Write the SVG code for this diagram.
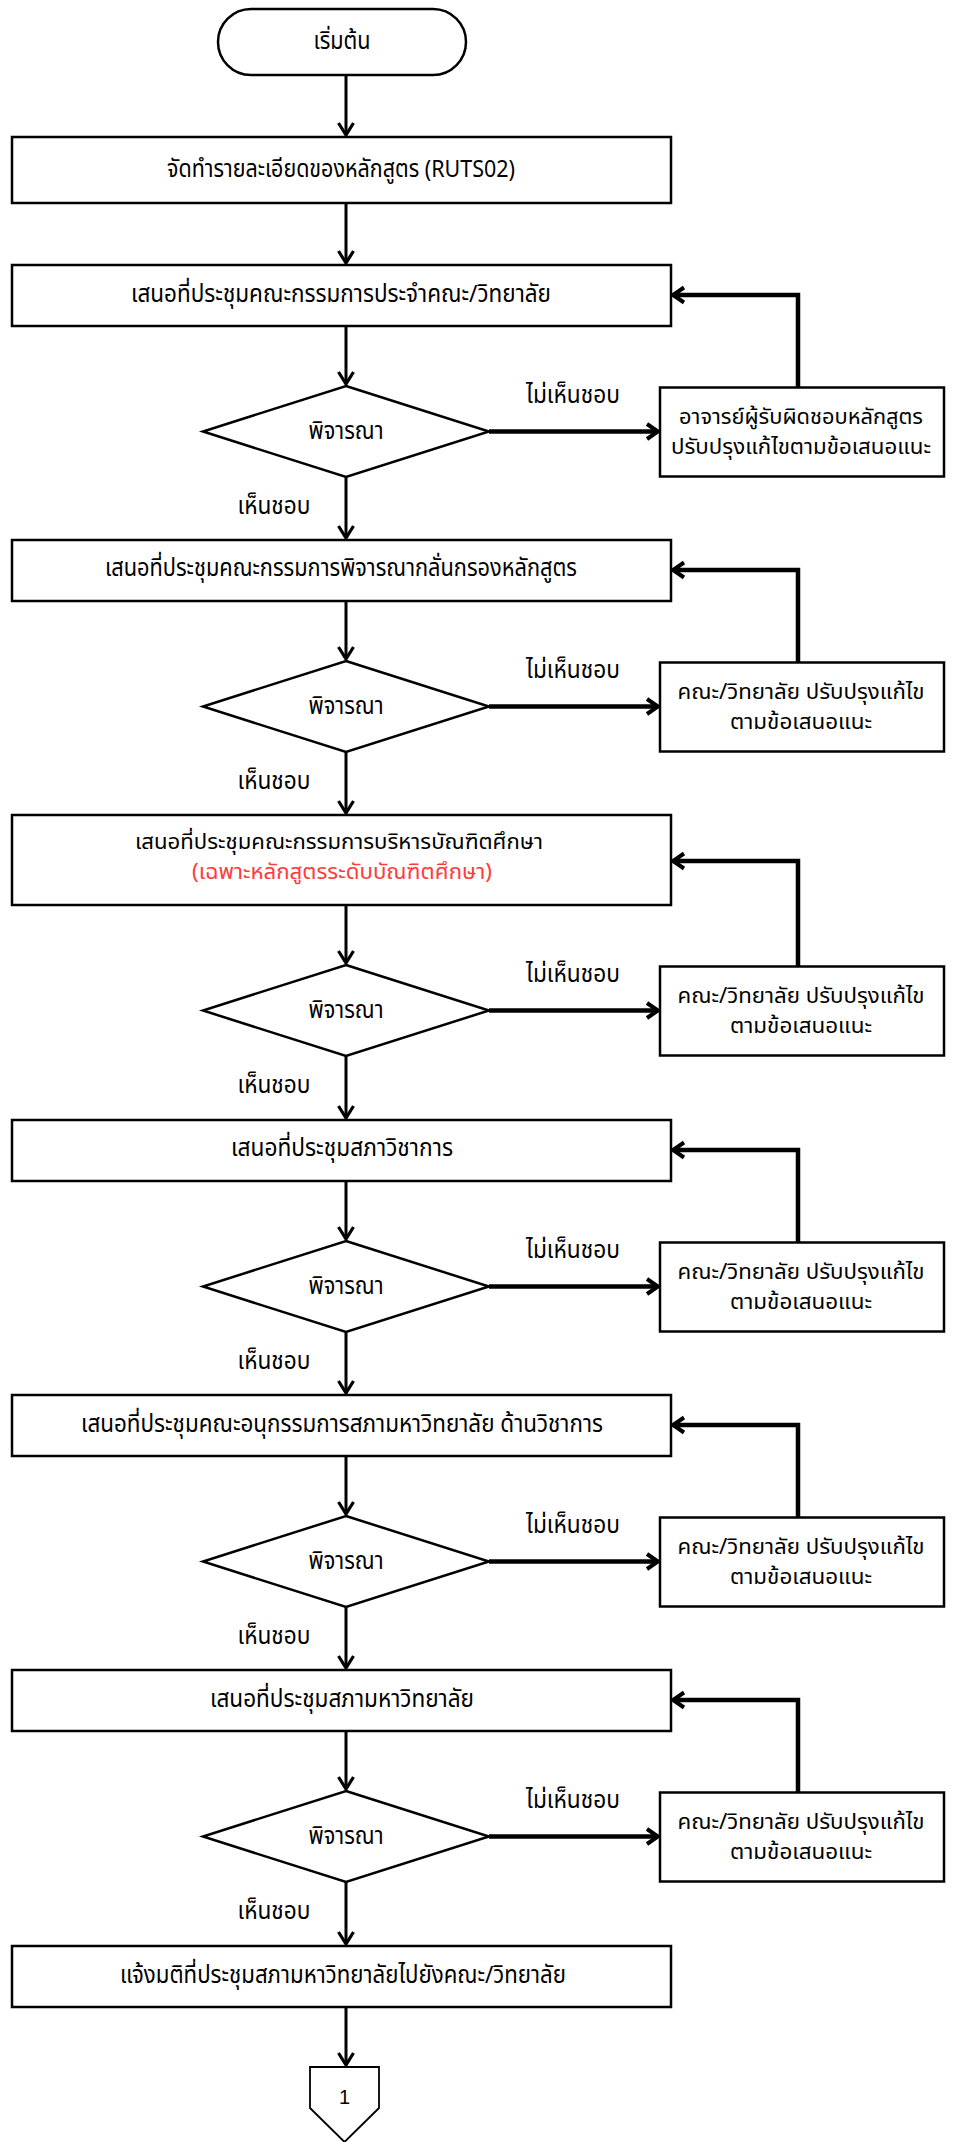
<svg xmlns="http://www.w3.org/2000/svg" width="955" height="2142" viewBox="0 0 955 2142">
<style>
.bx{fill:#fff;stroke:#000;stroke-width:2.5}
.t{font-family:"Noto Sans Thai","Noto Sans","DejaVu Sans",sans-serif;font-size:24px;fill:#000;text-anchor:middle}
.s{font-size:21px}
.red{fill:#ff3b3b}
.ln{fill:none;stroke:#000;stroke-width:3}
.thk{fill:none;stroke:#000;stroke-width:4.5}
</style>
<defs>
<marker id="ah" markerUnits="userSpaceOnUse" viewBox="-14 -10 16 20" refX="0" refY="0" markerWidth="16" markerHeight="20" orient="auto">
<path d="M-12,-7.5 L0,0 L-12,7.5" fill="none" stroke="#000" stroke-width="3.2"/>
</marker>
<marker id="ahk" markerUnits="userSpaceOnUse" viewBox="-14 -10 16 20" refX="0" refY="0" markerWidth="16" markerHeight="20" orient="auto">
<path d="M-11,-7.5 L0,0 L-11,7.5" fill="none" stroke="#000" stroke-width="4"/>
</marker>
</defs>
<rect width="955" height="2142" fill="#fff"/>

<g id="connectors">
<line class="ln" x1="346" y1="75" x2="346" y2="135" marker-end="url(#ah)"/>
<line class="ln" x1="346" y1="203" x2="346" y2="263" marker-end="url(#ah)"/>
<line class="ln" x1="346" y1="326" x2="346" y2="384" marker-end="url(#ah)"/>
<line class="thk" x1="489" y1="431.5" x2="658" y2="431.5" marker-end="url(#ahk)"/>
<polyline class="thk" points="798,387.5 798,295 673,295" marker-end="url(#ahk)"/>
<line class="ln" x1="346" y1="477" x2="346" y2="538" marker-end="url(#ah)"/>
<line class="ln" x1="346" y1="601" x2="346" y2="659" marker-end="url(#ah)"/>
<line class="thk" x1="489" y1="706.5" x2="658" y2="706.5" marker-end="url(#ahk)"/>
<polyline class="thk" points="798,662.5 798,570 673,570" marker-end="url(#ahk)"/>
<line class="ln" x1="346" y1="752" x2="346" y2="813" marker-end="url(#ah)"/>
<line class="ln" x1="346" y1="905" x2="346" y2="963" marker-end="url(#ah)"/>
<line class="thk" x1="489" y1="1010.5" x2="658" y2="1010.5" marker-end="url(#ahk)"/>
<polyline class="thk" points="798,966.5 798,861 673,861" marker-end="url(#ahk)"/>
<line class="ln" x1="346" y1="1056" x2="346" y2="1118" marker-end="url(#ah)"/>
<line class="ln" x1="346" y1="1181" x2="346" y2="1239" marker-end="url(#ah)"/>
<line class="thk" x1="489" y1="1286.5" x2="658" y2="1286.5" marker-end="url(#ahk)"/>
<polyline class="thk" points="798,1242.5 798,1150 673,1150" marker-end="url(#ahk)"/>
<line class="ln" x1="346" y1="1332" x2="346" y2="1393" marker-end="url(#ah)"/>
<line class="ln" x1="346" y1="1456" x2="346" y2="1514" marker-end="url(#ah)"/>
<line class="thk" x1="489" y1="1561.5" x2="658" y2="1561.5" marker-end="url(#ahk)"/>
<polyline class="thk" points="798,1517.5 798,1425 673,1425" marker-end="url(#ahk)"/>
<line class="ln" x1="346" y1="1607" x2="346" y2="1668" marker-end="url(#ah)"/>
<line class="ln" x1="346" y1="1731" x2="346" y2="1789" marker-end="url(#ah)"/>
<line class="thk" x1="489" y1="1836.5" x2="658" y2="1836.5" marker-end="url(#ahk)"/>
<polyline class="thk" points="798,1792.5 798,1700 673,1700" marker-end="url(#ahk)"/>
<line class="ln" x1="346" y1="1882" x2="346" y2="1944" marker-end="url(#ah)"/>
<line class="ln" x1="346" y1="2007" x2="346" y2="2065" marker-end="url(#ah)"/>
</g>

<g id="start">
<rect class="bx" x="218" y="9" width="248" height="66" rx="33" ry="33"/>
<text class="t" x="342" y="49" textLength="57" lengthAdjust="spacingAndGlyphs">เริ่มต้น</text>
</g>
<g id="box1">
<rect class="bx" x="12" y="137" width="659" height="66"/>
<text class="t" x="341" y="177" textLength="348" lengthAdjust="spacingAndGlyphs">จัดทำรายละเอียดของหลักสูตร (RUTS02)</text>
</g>

<g id="box2">
<rect class="bx" x="12" y="265" width="659" height="61"/>
<text class="t" x="341" y="302" textLength="420" lengthAdjust="spacingAndGlyphs">เสนอที่ประชุมคณะกรรมการประจำคณะ/วิทยาลัย</text>
</g>
<g id="dec1">
<polygon class="bx" points="346,386 489,431.5 346,477 203,431.5"/>
<text class="t" x="346" y="439" textLength="75" lengthAdjust="spacingAndGlyphs">พิจารณา</text>
</g>
<g id="fix1">
<rect class="bx" x="660" y="387.5" width="284" height="89"/>
<text class="t s" x="801" y="424" textLength="244" lengthAdjust="spacingAndGlyphs">อาจารย์ผู้รับผิดชอบหลักสูตร</text>
<text class="t s" x="801" y="454" textLength="260" lengthAdjust="spacingAndGlyphs">ปรับปรุงแก้ไขตามข้อเสนอแนะ</text>
</g>
<g id="lbl1">
<text class="t" x="573" y="403" textLength="94" lengthAdjust="spacingAndGlyphs">ไม่เห็นชอบ</text>
<text class="t" x="274" y="514" textLength="73" lengthAdjust="spacingAndGlyphs">เห็นชอบ</text>
</g>

<g id="box3">
<rect class="bx" x="12" y="540" width="659" height="61"/>
<text class="t" x="341" y="576" textLength="472" lengthAdjust="spacingAndGlyphs">เสนอที่ประชุมคณะกรรมการพิจารณากลั่นกรองหลักสูตร</text>
</g>
<g id="dec2">
<polygon class="bx" points="346,661 489,706.5 346,752 203,706.5"/>
<text class="t" x="346" y="714" textLength="75" lengthAdjust="spacingAndGlyphs">พิจารณา</text>
</g>
<g id="fix2">
<rect class="bx" x="660" y="662.5" width="284" height="89"/>
<text class="t s" x="801" y="699" textLength="247" lengthAdjust="spacingAndGlyphs">คณะ/วิทยาลัย ปรับปรุงแก้ไข</text>
<text class="t s" x="801" y="729" textLength="142" lengthAdjust="spacingAndGlyphs">ตามข้อเสนอแนะ</text>
</g>
<g id="lbl2">
<text class="t" x="573" y="678" textLength="94" lengthAdjust="spacingAndGlyphs">ไม่เห็นชอบ</text>
<text class="t" x="274" y="789" textLength="73" lengthAdjust="spacingAndGlyphs">เห็นชอบ</text>
</g>

<g id="box4">
<rect class="bx" x="12" y="815" width="659" height="90"/>
<text class="t s" x="339" y="849" textLength="408" lengthAdjust="spacingAndGlyphs">เสนอที่ประชุมคณะกรรมการบริหารบัณฑิตศึกษา</text>
<text class="t s red" x="342" y="879" textLength="300" lengthAdjust="spacingAndGlyphs">(เฉพาะหลักสูตรระดับบัณฑิตศึกษา)</text>
</g>
<g id="dec3">
<polygon class="bx" points="346,965 489,1010.5 346,1056 203,1010.5"/>
<text class="t" x="346" y="1018" textLength="75" lengthAdjust="spacingAndGlyphs">พิจารณา</text>
</g>
<g id="fix3">
<rect class="bx" x="660" y="966.5" width="284" height="89"/>
<text class="t s" x="801" y="1003" textLength="247" lengthAdjust="spacingAndGlyphs">คณะ/วิทยาลัย ปรับปรุงแก้ไข</text>
<text class="t s" x="801" y="1033" textLength="142" lengthAdjust="spacingAndGlyphs">ตามข้อเสนอแนะ</text>
</g>
<g id="lbl3">
<text class="t" x="573" y="982" textLength="94" lengthAdjust="spacingAndGlyphs">ไม่เห็นชอบ</text>
<text class="t" x="274" y="1093" textLength="73" lengthAdjust="spacingAndGlyphs">เห็นชอบ</text>
</g>

<g id="box5">
<rect class="bx" x="12" y="1120" width="659" height="61"/>
<text class="t" x="342" y="1156" textLength="222" lengthAdjust="spacingAndGlyphs">เสนอที่ประชุมสภาวิชาการ</text>
</g>
<g id="dec4">
<polygon class="bx" points="346,1241 489,1286.5 346,1332 203,1286.5"/>
<text class="t" x="346" y="1294" textLength="75" lengthAdjust="spacingAndGlyphs">พิจารณา</text>
</g>
<g id="fix4">
<rect class="bx" x="660" y="1242.5" width="284" height="89"/>
<text class="t s" x="801" y="1279" textLength="247" lengthAdjust="spacingAndGlyphs">คณะ/วิทยาลัย ปรับปรุงแก้ไข</text>
<text class="t s" x="801" y="1309" textLength="142" lengthAdjust="spacingAndGlyphs">ตามข้อเสนอแนะ</text>
</g>
<g id="lbl4">
<text class="t" x="573" y="1258" textLength="94" lengthAdjust="spacingAndGlyphs">ไม่เห็นชอบ</text>
<text class="t" x="274" y="1369" textLength="73" lengthAdjust="spacingAndGlyphs">เห็นชอบ</text>
</g>

<g id="box6">
<rect class="bx" x="12" y="1395" width="659" height="61"/>
<text class="t" x="342" y="1432" textLength="522" lengthAdjust="spacingAndGlyphs">เสนอที่ประชุมคณะอนุกรรมการสภามหาวิทยาลัย ด้านวิชาการ</text>
</g>
<g id="dec5">
<polygon class="bx" points="346,1516 489,1561.5 346,1607 203,1561.5"/>
<text class="t" x="346" y="1569" textLength="75" lengthAdjust="spacingAndGlyphs">พิจารณา</text>
</g>
<g id="fix5">
<rect class="bx" x="660" y="1517.5" width="284" height="89"/>
<text class="t s" x="801" y="1554" textLength="247" lengthAdjust="spacingAndGlyphs">คณะ/วิทยาลัย ปรับปรุงแก้ไข</text>
<text class="t s" x="801" y="1584" textLength="142" lengthAdjust="spacingAndGlyphs">ตามข้อเสนอแนะ</text>
</g>
<g id="lbl5">
<text class="t" x="573" y="1533" textLength="94" lengthAdjust="spacingAndGlyphs">ไม่เห็นชอบ</text>
<text class="t" x="274" y="1644" textLength="73" lengthAdjust="spacingAndGlyphs">เห็นชอบ</text>
</g>

<g id="box7">
<rect class="bx" x="12" y="1670" width="659" height="61"/>
<text class="t" x="342" y="1707" textLength="264" lengthAdjust="spacingAndGlyphs">เสนอที่ประชุมสภามหาวิทยาลัย</text>
</g>
<g id="dec6">
<polygon class="bx" points="346,1791 489,1836.5 346,1882 203,1836.5"/>
<text class="t" x="346" y="1844" textLength="75" lengthAdjust="spacingAndGlyphs">พิจารณา</text>
</g>
<g id="fix6">
<rect class="bx" x="660" y="1792.5" width="284" height="89"/>
<text class="t s" x="801" y="1829" textLength="247" lengthAdjust="spacingAndGlyphs">คณะ/วิทยาลัย ปรับปรุงแก้ไข</text>
<text class="t s" x="801" y="1859" textLength="142" lengthAdjust="spacingAndGlyphs">ตามข้อเสนอแนะ</text>
</g>
<g id="lbl6">
<text class="t" x="573" y="1808" textLength="94" lengthAdjust="spacingAndGlyphs">ไม่เห็นชอบ</text>
<text class="t" x="274" y="1919" textLength="73" lengthAdjust="spacingAndGlyphs">เห็นชอบ</text>
</g>

<g id="box8">
<rect class="bx" x="12" y="1946" width="659" height="61"/>
<text class="t" x="343" y="1983" textLength="446" lengthAdjust="spacingAndGlyphs">แจ้งมติที่ประชุมสภามหาวิทยาลัยไปยังคณะ/วิทยาลัย</text>
</g>
<g id="offpage">
<polygon points="310,2067 379,2067 379,2108 344.5,2142 310,2108" fill="#fff" stroke="#000" stroke-width="1.8"/>
<text x="344.5" y="2104" font-family="'Liberation Sans',sans-serif" font-size="20" text-anchor="middle" fill="#000">1</text>
</g>
</svg>
